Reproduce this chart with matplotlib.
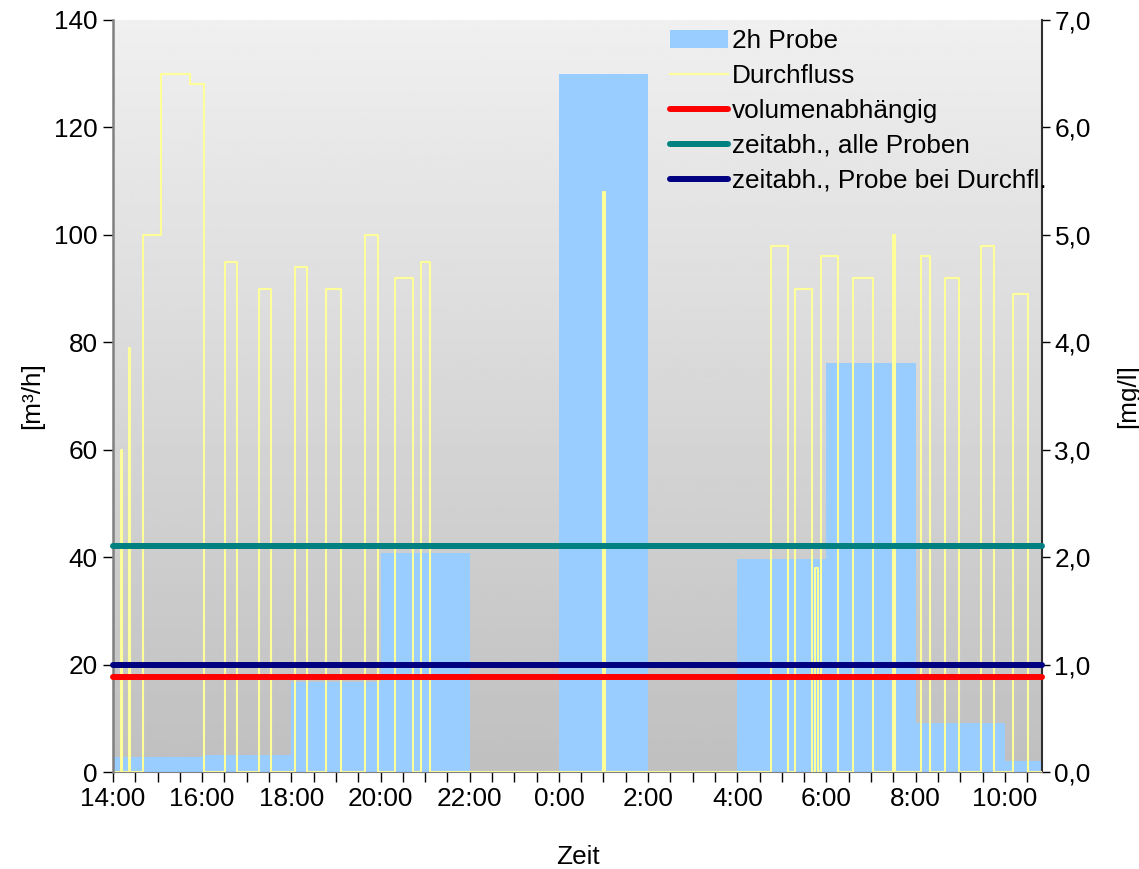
import matplotlib
matplotlib.use('Agg')
import matplotlib.pyplot as plt
import numpy as np
from matplotlib.ticker import MultipleLocator, FuncFormatter
from matplotlib.patches import Patch

plt.rcParams['font.family'] = ['Liberation Sans', 'DejaVu Sans']
plt.rcParams['font.size'] = 18.8

# Durchfluss [m³/h]: Schaltzeitpunkt und Wert ab diesem Zeitpunkt
flow_times = ['14:00', '14:11', '14:12', '14:22', '14:23', '14:40', '15:05',
              '15:43', '16:02', '16:31', '16:47', '17:16', '17:33', '18:05',
              '18:21', '18:46', '19:07', '19:39', '19:56', '20:20', '20:44',
              '20:54', '21:06', '0:59', '1:02', '4:46', '5:08', '5:18',
              '5:40', '5:45', '5:48', '5:53', '6:15', '6:36', '7:03', '7:30',
              '7:32', '8:07', '8:19', '8:40', '8:59', '9:28', '9:45', '10:11',
              '10:31', '10:50']
flow_values = [0, 60, 0, 79, 0, 100, 130,
               128, 0, 95, 0, 90, 0, 94,
               0, 90, 0, 100, 0, 92, 0,
               95, 0, 108, 0, 98, 0, 90,
               0, 38, 0, 96, 0, 92, 0, 100,
               0, 96, 0, 92, 0, 98, 0, 89,
               0, 0]

# 2h-Mischproben [mg/l]
probe_start = ['14:00', '16:00', '18:00', '20:00', '22:00', '0:00',
               '2:00', '4:00', '6:00', '8:00', '10:00']
probe_end = ['16:00', '18:00', '20:00', '22:00', '0:00', '2:00',
             '4:00', '6:00', '8:00', '10:00', '10:50']
probe_conc = [0.14, 0.16, 0.84, 2.04, 0.0, 6.5, 0.0, 1.98, 3.81, 0.46, 0.1]

# Mittelwerte [mg/l]
mean_labels = ['volumenabhängig', 'zeitabh., alle Proben',
               'zeitabh., Probe bei Durchfl.']
mean_values = [0.88, 2.1, 1.0]
mean_colors = ['#ff0000', '#008080', '#000080']


def to_hours(s):
    # Stunden ab 14:00, nach Mitternacht weiterzählen
    h, m = map(int, s.split(':'))
    t = h + m / 60 - 14
    if t < 0:
        t += 24
    return t


t_flow = [to_hours(s) for s in flow_times]
t_start = np.array([to_hours(s) for s in probe_start])
t_end = np.array([to_hours(s) for s in probe_end])
t_end[t_end == 0] = 24
t_max = t_end[-1]

fig = plt.figure(figsize=(11.39, 8.69), dpi=100)
ax = fig.add_axes([0.0992, 0.1116, 0.8156, 0.8654])
axr = ax.twinx()
ax.set_zorder(axr.get_zorder() + 1)
ax.patch.set_visible(False)

# Hintergrund mit Verlauf hell -> grau
grad = np.linspace(0.75, 0.94, 256).reshape(-1, 1)
axr.imshow(grad, extent=[0, 1, 0, 1], transform=axr.transAxes, origin='lower',
           aspect='auto', cmap='gray', vmin=0, vmax=1, zorder=0)

bars = axr.bar(t_start, probe_conc, width=t_end - t_start, align='edge',
               color='#99ccff', linewidth=0, zorder=2)

flow_line, = ax.plot(t_flow, flow_values, drawstyle='steps-post',
                     color='#ffff99', lw=1.5, zorder=2)

mean_lines = []
for v, c in zip(mean_values, mean_colors):
    ln, = ax.plot([0, t_max], [v, v], transform=axr.transData, color=c,
                  lw=4.3, solid_capstyle='round', clip_on=False, zorder=3)
    mean_lines.append(ln)

ax.set_xlim(0, t_max)
ax.set_ylim(0, 140)
axr.set_ylim(0, 7)

ax.yaxis.set_major_locator(MultipleLocator(20))
axr.yaxis.set_major_locator(MultipleLocator(1))
axr.yaxis.set_major_formatter(FuncFormatter(lambda v, _: f"{v:.1f}".replace('.', ',')))

ax.xaxis.set_major_locator(MultipleLocator(2))
ax.xaxis.set_minor_locator(MultipleLocator(0.5))
ax.xaxis.set_major_formatter(FuncFormatter(lambda v, _: f"{int(round(v + 14)) % 24}:00"))

ax.tick_params(axis='both', which='both', direction='out', length=7, width=1,
               color='black', pad=4)
axr.tick_params(axis='y', direction='out', length=6, width=1, color='black', pad=3)

for a in (ax, axr):
    a.spines['top'].set_visible(False)
ax.spines['right'].set_visible(False)
ax.spines['left'].set_color('#808080')
ax.spines['left'].set_linewidth(1.8)
ax.spines['bottom'].set_color('#808080')
axr.spines['left'].set_visible(False)
axr.spines['bottom'].set_visible(False)
axr.spines['right'].set_color('#303030')
axr.spines['right'].set_linewidth(1.5)

ax.set_ylabel('[m³/h]')
axr.set_ylabel('[mg/l]')
ax.set_xlabel('Zeit')
ax.yaxis.set_label_coords(-0.074, 0.5)
axr.yaxis.set_label_coords(1.08, 0.5)
ax.xaxis.set_label_coords(0.5, -0.097)

handles = [Patch(facecolor='#99ccff', edgecolor='none'), flow_line] + mean_lines
labels = ['2h Probe', 'Durchfluss'] + mean_labels
ax.legend(handles, labels, loc='upper left', bbox_to_anchor=(0.6, 0.988),
          frameon=False, borderpad=0, borderaxespad=0, handlelength=2.2,
          handletextpad=0.15, labelspacing=0.42)

fig.savefig('out.png', dpi=100)
